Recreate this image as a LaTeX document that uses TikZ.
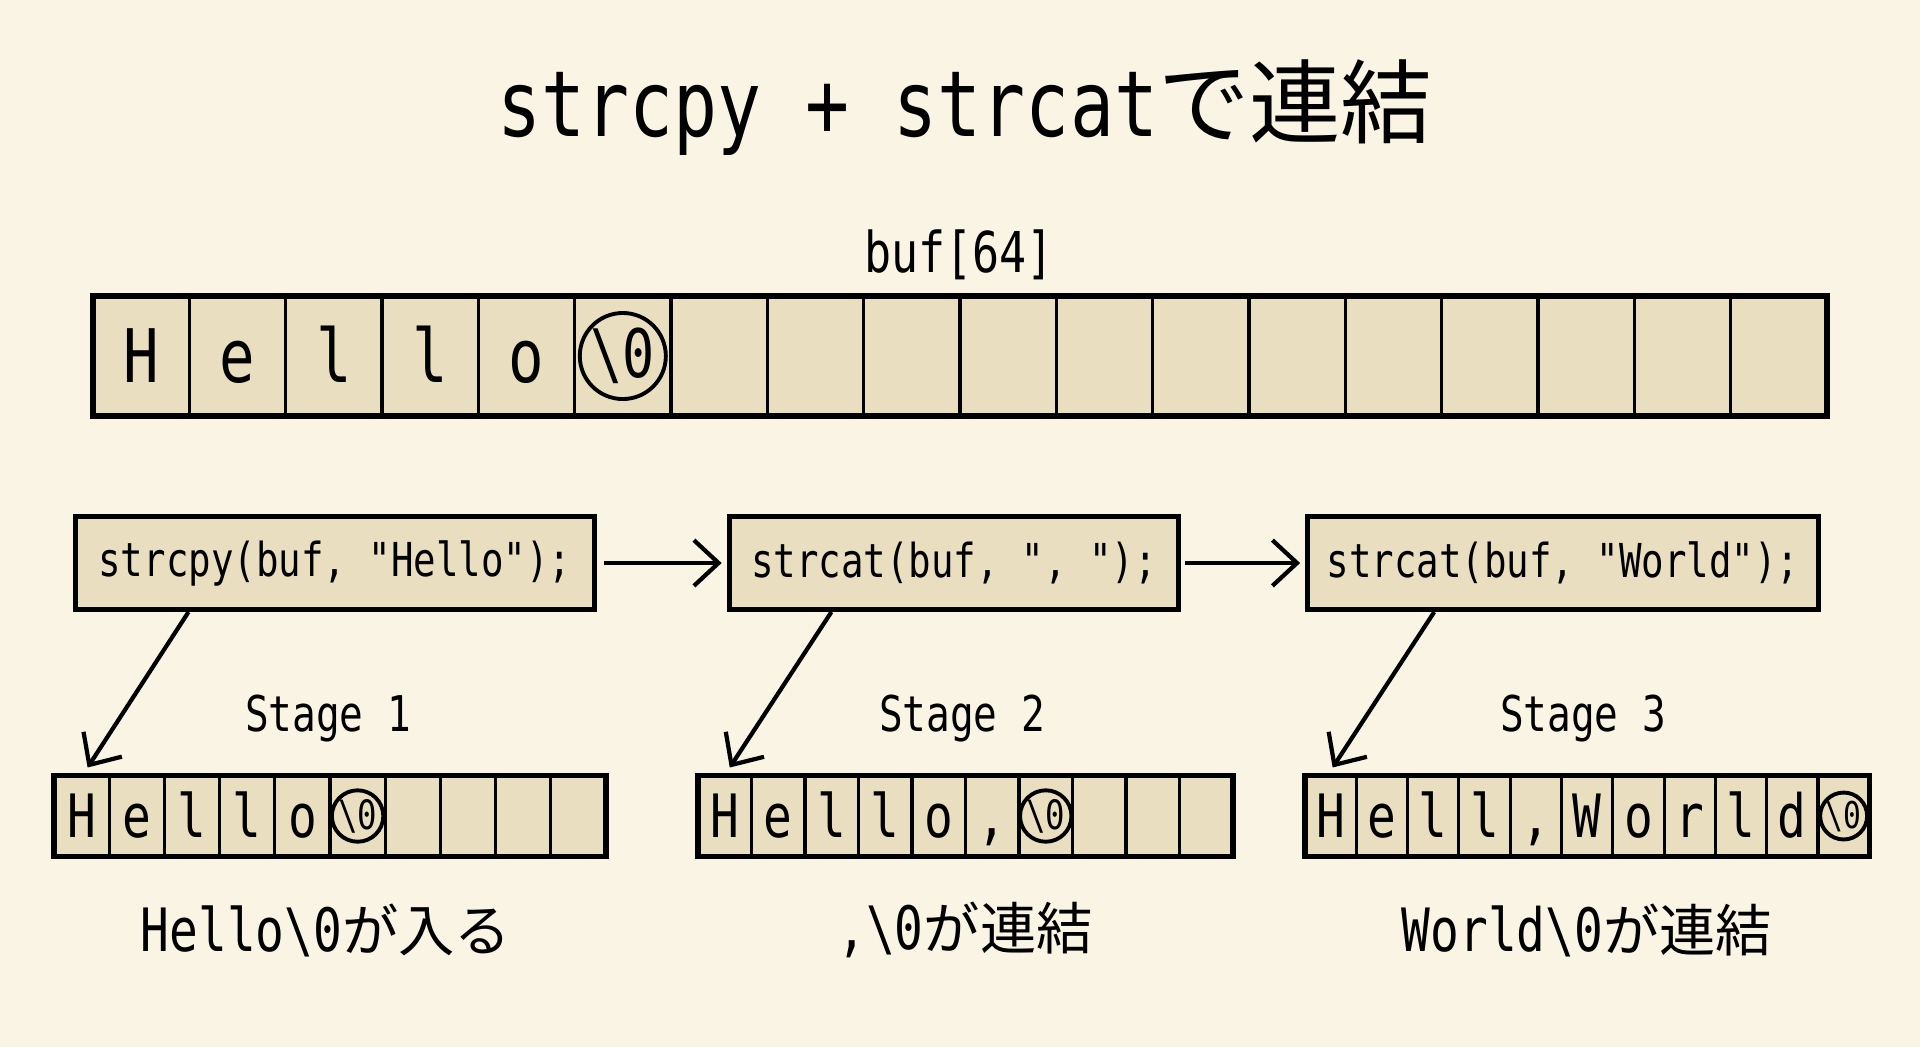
\documentclass[tikz,border=0pt]{standalone}
\usepackage{fontspec}
\newfontfamily\codefont[FakeStretch=0.8,Ligatures=TeXOff]{DejaVu Sans Mono}
\newfontfamily\jpfont{Noto Sans CJK JP}
\usetikzlibrary{arrows.meta,calc}

\definecolor{paper}{RGB}{250,244,229}
\definecolor{cellfill}{RGB}{234,222,192}

\begin{document}
\begin{tikzpicture}[x=0.01cm, y=-0.01cm,
  >={Straight Barb[length=7pt,width=13pt]},
  every node/.style={font=\codefont},
  cell/.style={draw, fill=cellfill, line width=0.9pt, inner sep=0pt, outer sep=0pt},
  frame/.style={draw, line width=1.6pt},
  nul/.style={draw, circle, line width=1.1pt, inner sep=0pt},
  call/.style={draw, fill=cellfill, line width=1.4pt, minimum height=0.93cm,
    inner sep=0pt, font=\codefont\fontsize{13.3}{16}\selectfont},
  flow/.style={->, line width=1.2pt}]

  \newcommand\bufW{96.33}
  \newcommand\cellH{0.81cm}

  % paper
  \fill[paper] (0,0) rectangle (1920,1047);
  \useasboundingbox (0,0) rectangle (1920,1047);

  % title
  \node (title) at (965,108) {\fontsize{26}{30}\selectfont strcpy + strcat{\jpfont で連結}};

  % buf[64]
  \node (buflabel) at (959,255) {\fontsize{16}{19}\selectfont buf[64]};

  \foreach \i in {1,...,18}
    \node[cell, minimum width=\bufW*0.01cm, minimum height=1.2cm] (b\i) at ({93+(\i-0.5)*\bufW},356) {};
  \foreach \c [count=\i] in {H,e,l,l,o}
    \node[font=\codefont\fontsize{21}{25}\selectfont, text height=15.3pt, text depth=0pt] (t\i) at (b\i) {\c};
  \node[nul, minimum size=0.86cm, font=\codefont\fontsize{19}{22}\selectfont] (t6) at (b6) {\textbackslash0};
  \draw[frame] (b1.north west) rectangle (b18.south east);

  % calls
  \node[call, minimum width=5.18cm] (cpy) at (335,563) {strcpy(buf, "Hello");};
  \node[call, minimum width=4.49cm] (cat1) at (954,563) {strcat(buf, ", ");};
  \node[call, minimum width=5.10cm] (cat2) at (1563,563) {strcat(buf, "World");};

  \draw[flow, shorten <=2pt, shorten >=1.5pt] (cpy) -- (cat1);
  \draw[flow, shorten <=1pt, shorten >=1.5pt] (cat1) -- (cat2);

  % stage 1
  \foreach \c [count=\i] in {H,e,l,l,o,{},{},{},{},{}}
    \node[cell, minimum width=0.552cm, minimum height=\cellH, text height=12.4pt, text depth=0pt,
      font=\codefont\fontsize{17}{20}\selectfont] (a1-\i) at ({54+(\i-0.5)*55.2},816) {\c};
  \node[nul, minimum size=0.48cm, font=\codefont\fontsize{11.5}{14}\selectfont] (z1) at (a1-6) {\textbackslash0};
  \draw[frame] (a1-1.north west) rectangle (a1-10.south east);

  % stage 2
  \foreach \c [count=\i] in {H,e,l,l,o,{,},{},{},{},{}}
    \node[cell, minimum width=0.535cm, minimum height=\cellH, text height=12.4pt, text depth=0pt,
      font=\codefont\fontsize{17}{20}\selectfont] (a2-\i) at ({698+(\i-0.5)*53.5},816) {\c};
  \node[nul, minimum size=0.48cm, font=\codefont\fontsize{11.5}{14}\selectfont] (z2) at (a2-7) {\textbackslash0};
  \draw[frame] (a2-1.north west) rectangle (a2-10.south east);

  % stage 3
  \foreach \c [count=\i] in {H,e,l,l,{,},W,o,r,l,d,{}}
    \node[cell, minimum width=0.513cm, minimum height=\cellH, text height=12.4pt, text depth=0pt,
      font=\codefont\fontsize{17}{20}\selectfont] (a3-\i) at ({1305+(\i-0.5)*51.3},816) {\c};
  \node[nul, minimum size=0.44cm, font=\codefont\fontsize{10.5}{13}\selectfont] (z3) at (a3-11) {\textbackslash0};
  \draw[frame] (a3-1.north west) rectangle (a3-11.south east);

  \draw[flow] ($(cpy.south west)!0.22!(cpy.south east)$) -- ($(a1-1.north)+(6,-8)$);
  \draw[flow] ($(cat1.south west)!0.23!(cat1.south east)$) -- ($(a2-1.north)+(5,-8)$);
  \draw[flow] ($(cat2.south west)!0.25!(cat2.south east)$) -- ($(a3-1.north)+(2,-8)$);

  % labels
  \node[font=\codefont\fontsize{14}{17}\selectfont] (st1) at (328,719) {Stage 1};
  \node[font=\codefont\fontsize{14}{17}\selectfont] (st2) at (962,719) {Stage 2};
  \node[font=\codefont\fontsize{14}{17}\selectfont] (st3) at (1583,719) {Stage 3};

  \node[font=\codefont\fontsize{17}{20}\selectfont] (n1) at (326,930) {Hello\textbackslash0{\jpfont\fontsize{16}{20}\selectfont が入る}};
  \node[font=\codefont\fontsize{17}{20}\selectfont] (n2) at (965,930) {,\textbackslash0{\jpfont\fontsize{16}{20}\selectfont が連結}};
  \node[font=\codefont\fontsize{17}{20}\selectfont] (n3) at (1587,930) {World\textbackslash0{\jpfont\fontsize{16}{20}\selectfont が連結}};

\end{tikzpicture}
\end{document}
